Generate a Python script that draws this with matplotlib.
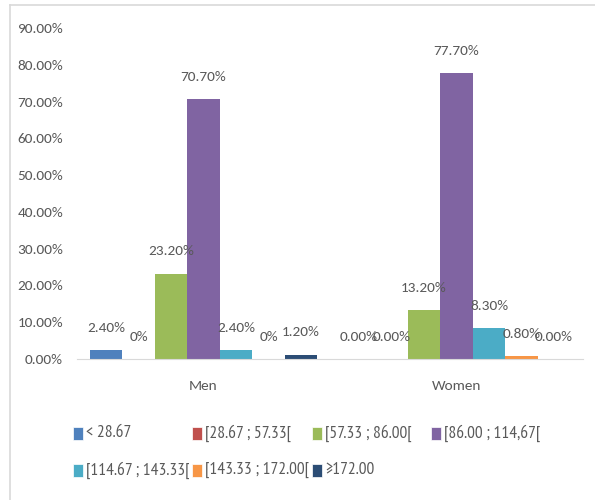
import matplotlib
matplotlib.use("Agg")
import matplotlib.pyplot as plt
from matplotlib.lines import Line2D
from matplotlib.patches import Rectangle
import numpy as np

categories = ["Men", "Women"]
series_names = ["< 28.67", "[28.67 ; 57.33[", "[57.33 ; 86.00[", "[86.00 ; 114,67[",
                "[114.67 ; 143.33[", "[143.33 ; 172.00[", "≥172.00"]
men_values = [2.40, 0.0, 23.20, 70.70, 2.40, 0.0, 1.20]
women_values = [0.0, 0.0, 13.20, 77.70, 8.30, 0.80, 0.0]
men_labels = ["2.40%", "0%", "23.20%", "70.70%", "2.40%", "0%", "1.20%"]
women_labels = ["0.00%", "0.00%", "13.20%", "77.70%", "8.30%", "0.80%", "0.00%"]
colors = ["#4F81BD", "#C0504D", "#9BBB59", "#8064A2", "#4BACC6", "#F79646", "#2C4D75"]
yticks = [0, 10, 20, 30, 40, 50, 60, 70, 80, 90]
ytick_labels = ["0.00%", "10.00%", "20.00%", "30.00%", "40.00%", "50.00%",
                "60.00%", "70.00%", "80.00%", "90.00%"]

plt.rcParams['font.family'] = ['Carlito', 'DejaVu Sans']
txt = "#595959"
fs = 11
W, H = 595, 500

fig = plt.figure(figsize=(5.95, 5.0), dpi=100)
ax = fig.add_axes([77 / W, 1 - 359 / H, (583 - 77) / W, (359 - 28) / H])

n = len(series_names)
bw = 0.9 / n
x = np.arange(len(categories))
for i in range(n):
    vals = [men_values[i], women_values[i]]
    labs = [men_labels[i], women_labels[i]]
    pos = x - 0.45 + bw * (i + 0.5)
    ax.bar(pos, vals, width=bw, color=colors[i], label=series_names[i], zorder=2)
    for p, v, l in zip(pos, vals, labs):
        ax.annotate(l, (p, v), xytext=(0, 16), textcoords="offset points",
                    ha="center", va="center", fontsize=fs, color=txt)

ax.set_xlim(-0.5, 1.5)
ax.set_ylim(0, 90)
ax.set_yticks(yticks)
ax.set_yticklabels(ytick_labels, fontsize=fs, color=txt)
ax.set_xticks(x)
ax.set_xticklabels(categories, fontsize=fs, color=txt)
ax.tick_params(axis="both", length=0)
ax.tick_params(axis="y", pad=10)
ax.tick_params(axis="x", pad=15)
for s in ["top", "right", "left"]:
    ax.spines[s].set_visible(False)
ax.spines["bottom"].set_color("#D9D9D9")

# legend laid out like the reference: 4 columns, row-major
col_x = [73, 192, 312, 431]
row_y = [433, 470]
for k, name in enumerate(series_names):
    r, c = divmod(k, 4)
    x0, yc = col_x[c], row_y[r]
    fig.add_artist(Rectangle((x0 / W, 1 - (yc + 6.5) / H), 10 / W, 13 / H,
                             transform=fig.transFigure, facecolor=colors[k],
                             edgecolor="white", lw=0.5))
    fig.text((x0 + 13) / W, 1 - yc / H, name, ha="left", va="center",
             fontsize=12.5, color=txt, family=['PT Sans Narrow', 'DejaVu Sans'])

fig.add_artist(Line2D([9.5 / W, 1.0], [1 - 4.5 / H, 1 - 4.5 / H],
                      transform=fig.transFigure, color="#D9D9D9", lw=1.2))
fig.add_artist(Line2D([9.5 / W, 9.5 / W], [0, 1 - 4.5 / H],
                      transform=fig.transFigure, color="#D9D9D9", lw=1.2))

fig.savefig("out.png", dpi=100)
